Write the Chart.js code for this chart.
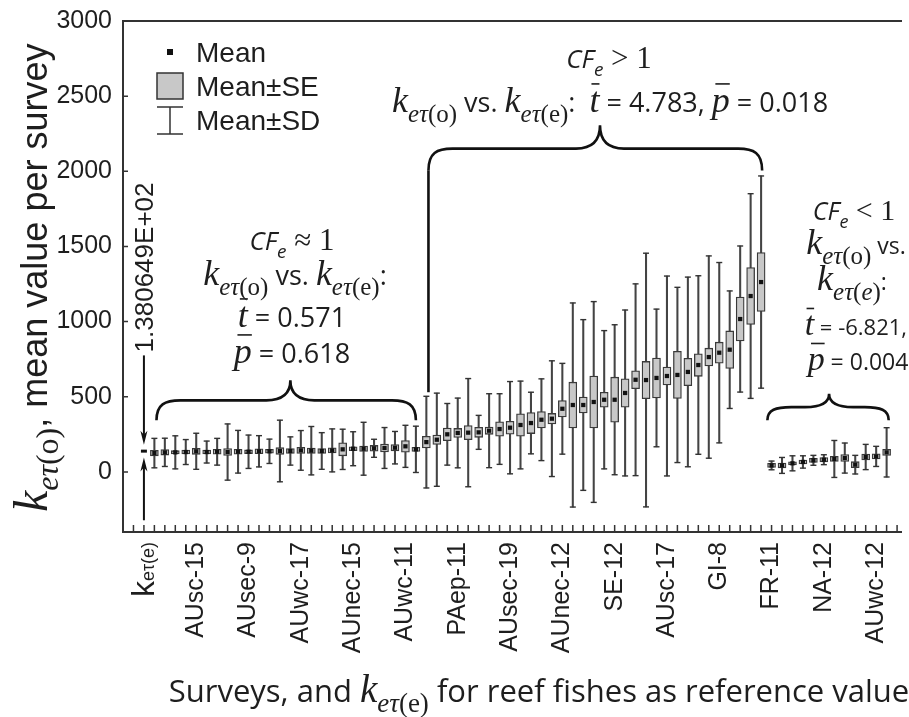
<!DOCTYPE html>
<html>
<head>
<meta charset="utf-8">
<script src="https://cdn.jsdelivr.net/npm/chart.js@4.4.1/dist/chart.umd.min.js"></script>
<style>
    html, body { margin: 0; padding: 0; background: #fff; }
    #wrap { width: 909px; height: 717px; }
</style>
</head>
<body>
<div id="wrap"><canvas id="chart" width="909" height="717"></canvas></div>
<script>
// k_et(e) for reef fishes, the reference value
const refValue = 138.0649;

// CFe ~ 1 surveys (positions 1-26)
const meanA = [125, 130, 130, 132, 137, 132, 134, 132, 134, 134, 137, 137, 139, 139, 143, 141, 139, 143, 150, 154, 154, 157, 159, 161, 170, 150];
const sdA = [98, 94, 110, 83, 120, 73, 89, 187, 142, 111, 104, 81, 205, 94, 132, 161, 122, 143, 134, 113, 176, 60, 136, 108, 140, 154];
const seA = [18, 18, 11, 13, 20, 13, 16, 23, 16, 12, 16, 13, 22, 16, 20, 18, 16, 17, 43, 13, 18, 19, 26, 21, 39, 14];

// CFe > 1 surveys (positions 27-59)
const meanB = [198, 214, 250, 259, 261, 263, 274, 285, 294, 312, 325, 347, 354, 420, 445, 445, 465, 480, 480, 525, 613, 611, 625, 638, 645, 665, 711, 764, 793, 813, 1017, 1170, 1263];
const sdB = [305, 310, 205, 232, 360, 113, 246, 235, 307, 292, 205, 272, 385, 302, 679, 568, 668, 460, 499, 552, 638, 844, 458, 665, 583, 631, 594, 673, 600, 391, 486, 681, 706];
const seB = [39, 31, 42, 30, 47, 33, 24, 48, 43, 75, 70, 54, 35, 55, 152, 53, 172, 50, 150, 94, 59, 124, 133, 59, 157, 91, 75, 59, 70, 125, 146, 189, 196];

// CFe < 1 surveys (positions 60-71)
const meanC = [43, 43, 57, 66, 77, 81, 86, 92, 48, 99, 103, 130];
const sdC = [29, 53, 50, 41, 33, 33, 123, 100, 62, 84, 67, 164];
const seC = [14, 16, 10, 13, 14, 14, 17, 23, 20, 20, 17, 20];

const tickPos = [5, 10, 15, 20, 25, 30, 35, 40, 45, 50, 55, 60, 65, 70];
const tickNames = ['AUsc-15', 'AUsec-9', 'AUwc-17', 'AUnec-15', 'AUwc-11', 'PAep-11', 'AUsec-19', 'AUnec-12', 'SE-12', 'AUsc-17', 'GI-8', 'FR-11', 'NA-12', 'AUwc-12'];
const yTicks = [0, 500, 1000, 1500, 2000, 2500, 3000];

const means = meanA.concat(meanB, meanC);
const sds = sdA.concat(sdB, sdC);
const ses = seA.concat(seB, seC);

const FONT_SANS = '"Open Sans", sans-serif';
const FONT_ARIAL = '"Liberation Sans", Arial, sans-serif';
const FONT_SERIF = '"Liberation Serif", serif';
const INK = '#1e1e1e';

function kParts(size, sub, italicSub) {
    const s = Math.round(size * 0.7);
    const dy = size * 0.28;
    return [
        { t: 'k', font: `italic ${size}px ${FONT_SERIF}` },
        { t: 'eτ', font: `italic ${s}px ${FONT_SERIF}`, dy: dy },
        { t: '(', font: `${s}px ${FONT_SERIF}`, dy: dy },
        { t: sub, font: `${italicSub ? 'italic ' : ''}${s}px ${FONT_SERIF}`, dy: dy },
        { t: ')', font: `${s}px ${FONT_SERIF}`, dy: dy }
    ];
}

function sans(t, size) {
    return { t: t, font: `${size}px ${FONT_SANS}` };
}

function barred(t, size) {
    return { t: t, font: `italic ${size}px ${FONT_SERIF}`, bar: size };
}

function cfParts(rel, size) {
    return [
        { t: 'CF', font: `italic ${size}px ${FONT_SANS}` },
        { t: 'e', font: `italic ${Math.round(size * 0.72)}px ${FONT_SANS}`, dy: size * 0.3 },
        { t: ' ' + rel + ' 1', font: `${size + 5}px ${FONT_SERIF}` }
    ];
}

function drawParts(ctx, parts, x, y, align) {
    let total = 0;
    parts.forEach(p => {
        ctx.font = p.font;
        p.w = ctx.measureText(p.t).width;
        total += p.w;
    });
    let cx = align === 'center' ? x - total / 2 : (align === 'right' ? x - total : x);
    ctx.textAlign = 'left';
    ctx.textBaseline = 'alphabetic';
    parts.forEach(p => {
        ctx.font = p.font;
        ctx.fillText(p.t, cx, y + (p.dy || 0));
        if (p.bar) {
            ctx.save();
            ctx.strokeStyle = INK;
            ctx.lineWidth = 1.6;
            ctx.beginPath();
            ctx.moveTo(cx + p.w * 0.2, y - p.bar * 0.78);
            ctx.lineTo(cx + p.w * 1.0, y - p.bar * 0.78);
            ctx.stroke();
            ctx.restore();
        }
        cx += p.w;
    });
    return total;
}

function brace(ctx, x1, x2, xm, yEnd, yFlat, yTip) {
    const r = 24;
    const h = yEnd - yFlat;
    ctx.beginPath();
    ctx.moveTo(x1, yEnd);
    ctx.bezierCurveTo(x1, yFlat + h * 0.2, x1 + r * 0.35, yFlat, x1 + r, yFlat);
    ctx.lineTo(xm - r, yFlat);
    ctx.bezierCurveTo(xm - r * 0.3, yFlat, xm, yFlat - (yFlat - yTip) * 0.35, xm, yTip);
    ctx.bezierCurveTo(xm, yFlat - (yFlat - yTip) * 0.35, xm + r * 0.3, yFlat, xm + r, yFlat);
    ctx.lineTo(x2 - r, yFlat);
    ctx.bezierCurveTo(x2 - r * 0.35, yFlat, x2, yFlat + h * 0.2, x2, yEnd);
    ctx.stroke();
}

function arrow(ctx, x, yFrom, yTo) {
    const dir = Math.sign(yTo - yFrom);
    const head = 14, half = 3.5;
    ctx.beginPath();
    ctx.moveTo(x, yFrom);
    ctx.lineTo(x, yTo - dir * head * 0.6);
    ctx.stroke();
    ctx.beginPath();
    ctx.moveTo(x, yTo);
    ctx.lineTo(x - half, yTo - dir * head);
    ctx.lineTo(x, yTo - dir * head * 0.72);
    ctx.lineTo(x + half, yTo - dir * head);
    ctx.closePath();
    ctx.fill();
}

const decorPlugin = {
    id: 'decor',
    afterDraw(chart) {
        const ctx = chart.ctx;
        const xs = chart.scales.x;
        const ys = chart.scales.y;
        const area = chart.chartArea;
        const X = v => xs.getPixelForValue(v);
        const Y = v => ys.getPixelForValue(v);

        ctx.save();
        ctx.fillStyle = INK;
        ctx.strokeStyle = '#333';

        // frame
        ctx.lineWidth = 2;
        ctx.beginPath();
        ctx.moveTo(area.right, area.top);
        ctx.lineTo(area.left, area.top);
        ctx.lineTo(area.left, area.bottom);
        ctx.lineTo(area.right, area.bottom);
        ctx.stroke();

        // inner tick marks
        ctx.lineWidth = 1.5;
        ctx.beginPath();
        for (let i = -1; i <= 72; i++) {
            ctx.moveTo(X(i), area.bottom);
            ctx.lineTo(X(i), area.bottom - 7);
        }
        yTicks.forEach(v => {
            ctx.moveTo(area.left, Y(v));
            ctx.lineTo(area.left + 5, Y(v));
        });
        ctx.stroke();

        // reference arrows and value
        ctx.strokeStyle = '#111';
        ctx.fillStyle = '#111';
        ctx.lineWidth = 2;
        arrow(ctx, X(0), Y(775), Y(refValue + 42));
        arrow(ctx, X(0), Y(-322), Y(refValue - 42));
        ctx.save();
        ctx.translate(X(0) + 9, Y(795));
        ctx.rotate(-Math.PI / 2);
        ctx.font = `26px ${FONT_ARIAL}`;
        ctx.fillStyle = INK;
        ctx.textAlign = 'left';
        ctx.textBaseline = 'alphabetic';
        ctx.fillText('1.380649E+02', 0, 0);
        ctx.restore();

        // first tick label: k_et(e)
        ctx.save();
        ctx.translate(X(0) + 10, area.bottom + 10);
        ctx.rotate(-Math.PI / 2);
        ctx.fillStyle = INK;
        drawParts(ctx, [
            { t: 'k', font: `32px ${FONT_ARIAL}` },
            { t: 'eτ(e)', font: `18px ${FONT_ARIAL}`, dy: 0 }
        ], 0, 0, 'right');
        ctx.restore();

        // braces
        ctx.strokeStyle = '#111';
        ctx.lineWidth = 2.6;
        brace(ctx, X(1.2), X(26.0), X(14), Y(343), Y(476), Y(609));
        brace(ctx, X(27.2), X(59.1), X(43.6), Y(2006), Y(2151), Y(2306));
        ctx.beginPath();
        ctx.moveTo(X(27.2), Y(2006));
        ctx.lineTo(X(27.2), Y(530));
        ctx.stroke();
        brace(ctx, X(59.6), X(71.2), X(65.5), Y(343), Y(431), Y(520));

        // annotations
        ctx.fillStyle = INK;
        const fs = 27, ks = 36;
        drawParts(ctx, cfParts('≈', fs - 1), 292, 250, 'center');
        drawParts(ctx, kParts(ks, 'o').concat([sans(' vs. ', fs)], kParts(ks, 'e'), [sans(':', fs)]), 295, 285, 'center');
        drawParts(ctx, [barred('t', ks), sans(' = 0.571', fs)], 292, 327, 'center');
        drawParts(ctx, [barred('p', ks), sans(' = 0.618', fs)], 292, 363, 'center');

        drawParts(ctx, cfParts('>', fs - 1), 609, 68, 'center');
        drawParts(ctx, kParts(ks, 'o').concat([sans(' vs. ', fs)], kParts(ks, 'e'), [sans(':  ', fs), barred('t', ks), sans(' = 4.783, ', fs), barred('p', ks), sans(' = 0.018', fs)]), 610, 112, 'center');

        const fr = 23;
        drawParts(ctx, cfParts('<', 25), 854, 220, 'center');
        drawParts(ctx, kParts(ks, 'o').concat([sans(' vs.', fr)]), 856, 254, 'center');
        drawParts(ctx, kParts(ks, 'e', true).concat([sans(':', fr)]), 852, 290, 'center');
        drawParts(ctx, [barred('t', ks - 2), sans(' = -6.821,', 22)], 907, 335, 'right');
        drawParts(ctx, [barred('p', ks - 2), sans(' = 0.004', fr)], 858, 370, 'center');

        // legend
        ctx.fillStyle = '#111';
        ctx.fillRect(167, 49, 6, 6);
        ctx.fillStyle = '#c8c8c8';
        ctx.strokeStyle = '#333';
        ctx.lineWidth = 1.5;
        ctx.fillRect(157, 73, 26, 26);
        ctx.strokeRect(157, 73, 26, 26);
        ctx.beginPath();
        ctx.moveTo(157, 107); ctx.lineTo(183, 107);
        ctx.moveTo(170, 107); ctx.lineTo(170, 134);
        ctx.moveTo(157, 134); ctx.lineTo(183, 134);
        ctx.stroke();
        ctx.fillStyle = INK;
        ctx.font = `28px ${FONT_ARIAL}`;
        ctx.textAlign = 'left';
        ctx.textBaseline = 'alphabetic';
        ctx.fillText('Mean', 196, 62);
        ctx.fillText('Mean±SE', 196, 96);
        ctx.fillText('Mean±SD', 196, 130);

        // axis titles
        ctx.save();
        ctx.translate(47, 512);
        ctx.rotate(-Math.PI / 2);
        drawParts(ctx, [
            { t: 'k', font: `italic 48px ${FONT_SERIF}` },
            { t: 'eτ', font: `italic 32px ${FONT_SERIF}`, dy: 11 },
            { t: '(o)', font: `32px ${FONT_SERIF}`, dy: 11 },
            { t: ', mean value per survey', font: `36px ${FONT_ARIAL}` }
        ], 0, 0, 'left');
        ctx.restore();

        drawParts(ctx, [sans('Surveys, and ', 31)].concat(
            [
                { t: 'k', font: `italic 39px ${FONT_SERIF}` },
                { t: 'eτ', font: `italic 27px ${FONT_SERIF}`, dy: 10 },
                { t: '(e)', font: `27px ${FONT_SERIF}`, dy: 10 }
            ],
            [sans(' for reef fishes as reference value', 31)]
        ), 539, 702, 'center');

        ctx.restore();
    }
};

const whiskerData = means.map((m, i) => ({ x: i + 1, y: [m - sds[i], m + sds[i]] }));
const boxData = means.map((m, i) => ({ x: i + 1, y: [m - ses[i], m + ses[i]] }));
const capData = [];
means.forEach((m, i) => {
    capData.push({ x: i + 1, y: m + sds[i] });
    capData.push({ x: i + 1, y: m - sds[i] });
});
const meanData = means.map((m, i) => ({ x: i + 1, y: m }));

new Chart(document.getElementById('chart'), {
    type: 'bar',
    data: {
        datasets: [
            {
                type: 'scatter',
                data: [{ x: 0, y: refValue }],
                pointStyle: 'line',
                radius: 3,
                borderWidth: 3,
                borderColor: '#111',
                order: 0
            },
            {
                type: 'scatter',
                data: meanData,
                pointStyle: 'rect',
                radius: 3,
                backgroundColor: '#111',
                borderWidth: 0,
                order: 1
            },
            {
                type: 'bar',
                data: boxData,
                grouped: false,
                barThickness: 8,
                backgroundColor: '#c8c8c8',
                borderColor: '#3a3a3a',
                borderWidth: 1.3,
                borderSkipped: false,
                order: 2
            },
            {
                type: 'scatter',
                data: capData,
                pointStyle: 'line',
                radius: 3,
                borderWidth: 1.4,
                borderColor: '#333',
                order: 3
            },
            {
                type: 'bar',
                data: whiskerData,
                grouped: false,
                barThickness: 1.4,
                backgroundColor: '#444',
                borderWidth: 0,
                order: 4
            }
        ]
    },
    options: {
        responsive: false,
        animation: false,
        devicePixelRatio: 1,
        layout: { padding: { top: 21, right: 0, left: 0, bottom: 0 } },
        plugins: {
            legend: { display: false },
            tooltip: { enabled: false }
        },
        scales: {
            x: {
                type: 'linear',
                min: -2,
                max: 72.47,
                offset: false,
                grid: { display: false, drawTicks: false },
                border: { display: false },
                afterBuildTicks: axis => {
                    const t = [];
                    for (let i = -1; i <= 72; i++) t.push({ value: i });
                    axis.ticks = t;
                },
                afterFit: axis => {
                    axis.height = 185;
                    axis.paddingLeft = 0;
                    axis.paddingRight = 0;
                },
                ticks: {
                    autoSkip: false,
                    minRotation: 90,
                    maxRotation: 90,
                    padding: 10,
                    color: INK,
                    font: { family: 'Liberation Sans', size: 25 },
                    callback: value => {
                        const k = tickPos.indexOf(value);
                        return k >= 0 ? tickNames[k] : '';
                    }
                }
            },
            y: {
                min: -400,
                max: 3000,
                grid: { display: false, drawTicks: false },
                border: { display: false },
                afterBuildTicks: axis => {
                    axis.ticks = yTicks.map(v => ({ value: v }));
                },
                afterFit: axis => {
                    axis.width = 123;
                    axis.paddingTop = 0;
                    axis.paddingBottom = 0;
                },
                ticks: {
                    padding: 11,
                    color: INK,
                    font: { family: 'Liberation Sans', size: 25 },
                    callback: value => String(value)
                }
            }
        }
    },
    plugins: [decorPlugin]
});
</script>
</body>
</html>
